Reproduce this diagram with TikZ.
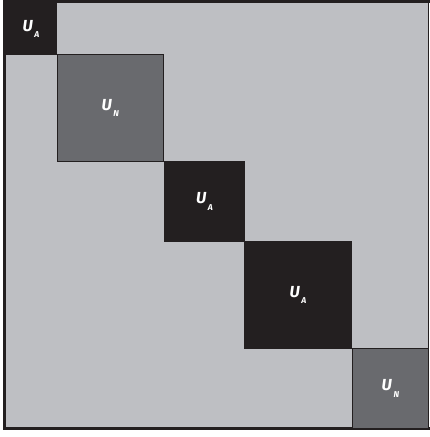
\documentclass[tikz,border=0pt]{standalone}
\usepackage{fontspec}
\setsansfont{Fira Sans}
\definecolor{bgray}{HTML}{BEBFC3}
\definecolor{dgray}{HTML}{696A6E}
\definecolor{blk}{HTML}{231F20}
\tikzset{
  blkbox/.style={fill=blk, draw=blk, line width=0.8pt},
  gbox/.style={fill=dgray, draw=blk, line width=0.8pt},
  lbl/.style={text=white, inner sep=0pt, font=\sffamily\bfseries\itshape}
}
\newcommand{\ulbl}[1]{{\fontsize{16}{16}\selectfont U}\kern1.5pt\raisebox{-6.5pt}{\fontsize{8.5}{8.5}\selectfont #1}}
\begin{document}
\begin{tikzpicture}[x=1pt,y=-1pt]
\useasboundingbox (0,0) rectangle (429,437);
\fill[white] (0,0) rectangle (429,437);
\fill[bgray] (5,2) rectangle (429,428);
\draw[blk, line width=3pt] (429.5,1.5) -- (4.5,1.5) -- (4.5,428.5) -- (429.5,428.5);
\draw[blk, line width=0.6pt] (428.5,1.5) -- (428.5,428.5);
\node[blkbox, minimum width=51pt, minimum height=51pt, inner sep=0pt, anchor=north west] (b1) at (5,3) {};
\node[gbox, minimum width=106pt, minimum height=107pt, inner sep=0pt, anchor=north west] (b2) at (57,54) {};
\node[blkbox, minimum width=80pt, minimum height=80pt, inner sep=0pt, anchor=north west] (b3) at (164,161) {};
\node[blkbox, minimum width=107pt, minimum height=107pt, inner sep=0pt, anchor=north west] (b4) at (244,241) {};
\node[gbox, minimum width=76pt, minimum height=80pt, inner sep=0pt, anchor=north west] (b5) at (352,348) {};
\node[lbl] (l1) at (b1.center) {\ulbl{A}};
\node[lbl] (l2) at (b2.center) {\ulbl{N}};
\node[lbl] (l3) at (b3.center) {\ulbl{A}};
\node[lbl] (l4) at (b4.center) {\ulbl{A}};
\node[lbl] (l5) at (b5.center) {\ulbl{N}};
\end{tikzpicture}
\end{document}
